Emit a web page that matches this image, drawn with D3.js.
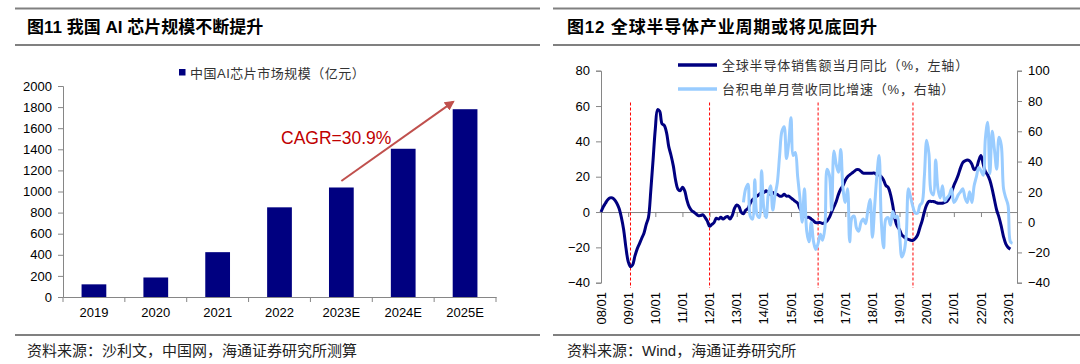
<!DOCTYPE html>
<html>
<head>
<meta charset="utf-8">
<script src="https://cdn.jsdelivr.net/npm/d3@7"></script>
<style>
  body { margin: 0; background: #fff; }
  svg text { font-family: "Liberation Sans", Arial, "Noto Sans CJK SC", sans-serif; }
</style>
</head>
<body>
<svg id="svg" width="1080" height="364"></svg>
<script>
// ---- left chart data: China AI chip market size (100m yuan)
const years = ['2019', '2020', '2021', '2022', '2023E', '2024E', '2025E'];
const marketSize = [120, 185, 425, 850, 1038, 1405, 1780];
const marketTicks = [0, 200, 400, 600, 800, 1000, 1200, 1400, 1600, 1800, 2000];
const cagrLabel = 'CAGR=30.9%';

// ---- right chart data: global semi sales yoy (%, left), TSMC monthly revenue yoy (%, right)
const semiStart = '2008-01';
const semiYoY = [
  0, 3, 5, 7, 8, 8, 7, 5, 2, -3, -10, -20,
  -28, -31, -30, -25, -21, -18, -15, -12, -7, -3, 12, 29,
  47, 58, 57, 50, 49, 45, 37, 32, 26, 18, 13, 12,
  14, 12, 7, 3, 1, 0, -1, -2, -2, -1.5, -3, -5,
  -8, -7, -6, -3.5, -4, -3, -4, -3, -2.5, -4, -2, 2,
  4, 3, 0, -1, 1, 2, 5, 7, 8, 9, 10, 11,
  11, 12, 11, 10, 11, 10, 10, 9, 9, 10, 9, 9,
  8, 7, 6, 5, 2, 0, -2, -3, -3, -4, -5, -6,
  -6, -6, -6.5, -6, -5, -3, 0, 3, 6, 10, 13, 15,
  18, 20, 21, 22, 23, 24, 24, 23, 22, 22, 22, 22,
  22, 22, 21, 21, 20, 18, 15, 14, 10, 4, -4, -8,
  -10, -13, -14, -15, -15.5, -16, -16, -15, -13, -9, -5, 0,
  4, 6, 6, 6, 5.5, 5, 5, 5, 5.5, 6, 8, 11,
  15, 18, 21, 25, 28, 29, 29.5, 29, 27, 24, 25, 29,
  32, 27, 23, 21, 18, 13, 7, 1, -3, -8, -14, -18,
  -20, -21
];
const tsmcStart = '2013-04';
const tsmcYoY = [
  13, 22, 25, 4, 2, 28, 5, 3, 34,
  9, 3, 18, 24, 8, 18, 26, 44, 60, 63, 42, 52,
  69, 44, 46, 30, 16, 0, 22, -6, -13, 0, -13, -18,
  -14, -8, -12, -4, 35, 31, 8, 47, 38, 33, 48, 22,
  13, 22, -13, 3, 4, -4, -6, 0, 2, -1, 8, 15,
  -10, 11, 30, 44, 0, -17, 2, 3, -2, 7, 3, 4,
  -8, -23, -20, -9, 22, 16, 10, 6, 6, 11, 13, 30,
  54, 45, 20, 18, 41, 22, 16, 24, 14, 16, 18, 22,
  13, 15, 18, 20, 22, 16, 13, 20, 13, 24, 30, 36,
  34, 31, 55, 66, 32, 60, 48, 35, 56, 51, 22, 16,
  11, -13, -14
];
const troughMonths = ['2009-02', '2012-01', '2016-01', '2019-07'];
const leftTicksR = [-40, -20, 0, 20, 40, 60, 80];
const rightTicksR = [-40, -20, 0, 20, 40, 60, 80, 100];
const seriesNames = ['全球半导体销售额当月同比（%，左轴）', '台积电单月营收同比增速（%，右轴）'];

const NAVY = '#000080', LIGHT = '#99ccff', AXIS = '#868686', RULE = '#808080';
const parseM = d3.timeParse('%Y-%m');
const monthly = (start, vals) => vals.map((v, i) => ({ date: d3.timeMonth.offset(parseM(start), i), v }));

const svg = d3.select('#svg');
svg.append('rect').attr('width', 1080).attr('height', 364).attr('fill', '#fff');

// ---- frame: rules, titles, sources
[[15, 540], [553, 1080]].forEach(([a, b]) => {
  [8.5, 45, 335].forEach(y => svg.append('line').attr('x1', a).attr('x2', b).attr('y1', y).attr('y2', y)
    .attr('stroke', RULE).attr('stroke-width', 2));
});
svg.append('text').attr('x', 27).attr('y', 33).attr('font-size', 17).attr('font-weight', 'bold')
  .text('图11 我国 AI 芯片规模不断提升');
svg.append('text').attr('x', 567).attr('y', 33).attr('font-size', 17).attr('font-weight', 'bold')
  .attr('letter-spacing', 0.8).text('图12 全球半导体产业周期或将见底回升');
svg.append('text').attr('x', 27).attr('y', 356).attr('font-size', 15).attr('fill', '#222')
  .text('资料来源：沙利文，中国网，海通证券研究所测算');
svg.append('text').attr('x', 567).attr('y', 356).attr('font-size', 15).attr('fill', '#222')
  .text('资料来源：Wind，海通证券研究所');

// ---- left bar chart
const x = d3.scaleBand().domain(years).range([63, 496]).paddingInner(0.6).paddingOuter(0.3);
const y = d3.scaleLinear().domain([0, 2000]).range([297, 86]);

const gY = svg.append('g').attr('transform', 'translate(63,0)')
  .call(d3.axisLeft(y).tickValues(marketTicks).tickFormat(d3.format('d')).tickSize(5).tickPadding(6));
gY.selectAll('path, line').attr('stroke', AXIS);
gY.selectAll('text').attr('font-size', 13).attr('fill', '#000').attr('font-family', '"Liberation Sans", Arial');

const gX = svg.append('g').attr('transform', 'translate(0,297)')
  .call(d3.axisBottom(x).tickSize(0).tickPadding(11));
gX.select('.domain').attr('stroke', AXIS);
gX.selectAll('text').attr('font-size', 13).attr('fill', '#000').attr('font-family', '"Liberation Sans", Arial');
d3.range(years.length + 1).forEach(i => {
  const bx = x.range()[0] + i * x.step();
  gX.append('line').attr('x1', bx).attr('x2', bx).attr('y1', 0).attr('y2', 5).attr('stroke', AXIS);
});

svg.append('g').selectAll('rect').data(marketSize).join('rect')
  .attr('x', (d, i) => x(years[i])).attr('width', x.bandwidth())
  .attr('y', d => y(d)).attr('height', d => y(0) - y(d)).attr('fill', NAVY);

// legend
svg.append('rect').attr('x', 179).attr('y', 69).attr('width', 6.5).attr('height', 6.5).attr('fill', NAVY);
svg.append('text').attr('x', 190).attr('y', 78).attr('font-size', 13).attr('fill', '#333')
  .attr('letter-spacing', 0.5).attr('font-family', '"Noto Sans CJK SC"').text('中国AI芯片市场规模（亿元）');

// CAGR arrow and label
svg.append('defs').append('marker').attr('id', 'arr').attr('viewBox', '0 0 10 10')
  .attr('refX', 8).attr('refY', 5).attr('markerWidth', 5).attr('markerHeight', 5)
  .attr('orient', 'auto').append('path').attr('d', 'M0,0L10,5L0,10z').attr('fill', '#c0504d');
const ax0 = x('2023E') + x.bandwidth() / 2, ay0 = y(1100);
const ax1 = x('2025E') + x.bandwidth() / 2 - 12, ay1 = y(1850);
svg.append('line').attr('x1', ax0).attr('y1', ay0).attr('x2', ax1).attr('y2', ay1)
  .attr('stroke', '#c0504d').attr('stroke-width', 2).attr('marker-end', 'url(#arr)');
svg.append('text').attr('x', 281).attr('y', 143.5).attr('font-size', 17.5).attr('fill', '#c00000')
  .text(cagrLabel);

// ---- right line chart
const xT = d3.scaleTime().domain([parseM('2008-01'), parseM('2023-05')]).range([601, 1017]);
const yL = d3.scaleLinear().domain([-40, 80]).range([282.7, 70.7]);
const yR = d3.scaleLinear().domain([-40, 100]).range([282.7, 70.7]);

const gL = svg.append('g').attr('transform', 'translate(601,0)')
  .call(d3.axisLeft(yL).tickValues(leftTicksR).tickSize(5).tickPadding(6));
const gR = svg.append('g').attr('transform', 'translate(1017,0)')
  .call(d3.axisRight(yR).tickValues(rightTicksR).tickSize(5).tickPadding(6));
[gL, gR].forEach(g => {
  g.selectAll('path, line').attr('stroke', AXIS);
  g.selectAll('text').attr('font-size', 13).attr('fill', '#000').attr('font-family', '"Liberation Sans", Arial');
});

const yearTicks = d3.timeYear.range(parseM('2008-01'), parseM('2023-02'));
const gZ = svg.append('g').attr('transform', `translate(0,${yL(0)})`)
  .call(d3.axisBottom(xT).tickValues(yearTicks).tickSize(5).tickFormat(''));
gZ.selectAll('path, line').attr('stroke', AXIS);

const fmt = d3.timeFormat('%y/%m');
svg.append('g').selectAll('text').data(yearTicks).join('text')
  .attr('transform', d => `translate(${xT(d)},292) rotate(-90)`)
  .attr('text-anchor', 'end').attr('dy', '0.35em').attr('font-size', 13)
  .attr('font-family', '"Liberation Sans", Arial').text(fmt);

// trough markers
svg.append('g').selectAll('line').data(troughMonths.map(parseM)).join('line')
  .attr('x1', d => xT(d)).attr('x2', d => xT(d)).attr('y1', yL(62)).attr('y2', yL(-43))
  .attr('stroke', '#ff0000').attr('stroke-width', 1).attr('stroke-dasharray', '3,2');

const semi = monthly(semiStart, semiYoY);
const tsmc = monthly(tsmcStart, tsmcYoY);
svg.append('path').datum(semi).attr('fill', 'none').attr('stroke', NAVY).attr('stroke-width', 3)
  .attr('stroke-linejoin', 'round')
  .attr('d', d3.line().x(d => xT(d.date)).y(d => yL(d.v)).curve(d3.curveCatmullRom));
svg.append('path').datum(tsmc).attr('fill', 'none').attr('stroke', LIGHT).attr('stroke-width', 3)
  .attr('stroke-linejoin', 'round')
  .attr('d', d3.line().x(d => xT(d.date)).y(d => yR(d.v)).curve(d3.curveCatmullRom));

// legend
[NAVY, LIGHT].forEach((c, i) => {
  const ly = 65 + i * 24;
  svg.append('line').attr('x1', 678).attr('x2', 717).attr('y1', ly).attr('y2', ly)
    .attr('stroke', c).attr('stroke-width', 3.5);
  svg.append('text').attr('x', 722).attr('y', ly + 4.5).attr('font-size', 13).attr('fill', '#333')
    .attr('letter-spacing', 0.8).attr('font-family', '"Noto Sans CJK SC"').text(seriesNames[i]);
});
</script>
</body>
</html>
